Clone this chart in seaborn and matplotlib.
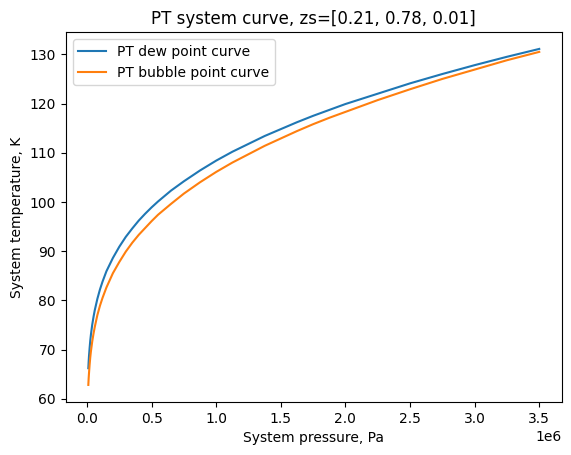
import matplotlib
matplotlib.use("Agg")
import matplotlib.pyplot as plt
import seaborn as sns

# Pressures (Pa)
pressures = [1.0e4, 1.25e4, 1.5e4, 2.0e4, 2.5e4, 3.0e4, 4.0e4, 5.0e4, 6.0e4, 8.0e4,
             1.0e5, 1.2e5, 1.5e5, 2.0e5, 2.5e5, 3.0e5, 3.5e5, 4.0e5, 4.5e5, 5.0e5,
             5.5e5, 6.0e5, 6.5e5, 7.5e5, 8.75e5, 1.0e6, 1.125e6, 1.25e6, 1.375e6, 1.5e6,
             1.625e6, 1.75e6, 1.875e6, 2.0e6, 2.25e6, 2.5e6, 2.75e6, 3.0e6, 3.25e6, 3.5e6]

# Dew point temperatures (K)
dew_temps = [66.2, 67.5, 68.6, 70.3, 71.8, 73.0, 75.0, 76.6, 78.0, 80.3,
             82.2, 83.8, 85.9, 88.6, 90.9, 92.9, 94.6, 96.2, 97.6, 98.9,
             100.1, 101.2, 102.3, 104.2, 106.4, 108.4, 110.2, 111.8, 113.4, 114.8,
             116.2, 117.5, 118.7, 119.9, 122.0, 124.1, 126.0, 127.8, 129.5, 131.1]

# Bubble point temperatures (K)
bubble_temps = [62.8, 64.1, 65.1, 66.9, 68.4, 69.6, 71.6, 73.2, 74.6, 77.0,
                78.9, 80.5, 82.6, 85.5, 87.8, 89.9, 91.7, 93.3, 94.7, 96.1,
                97.4, 98.5, 99.6, 101.7, 104.0, 106.1, 108.0, 109.7, 111.4, 112.9,
                114.4, 115.8, 117.1, 118.3, 120.7, 122.9, 125.0, 126.9, 128.8, 130.5]

zs = [0.21, 0.78, 0.01]

fig, ax = plt.subplots(figsize=(6.4, 4.8))
sns.lineplot(x=pressures, y=dew_temps, label='PT dew point curve', ax=ax)
sns.lineplot(x=pressures, y=bubble_temps, label='PT bubble point curve', ax=ax)
ax.set_title(f'PT system curve, zs={zs}')
ax.set_xlabel('System pressure, Pa')
ax.set_ylabel('System temperature, K')
ax.legend(loc='upper left')
fig.savefig('out.png', dpi=100, bbox_inches='tight')
